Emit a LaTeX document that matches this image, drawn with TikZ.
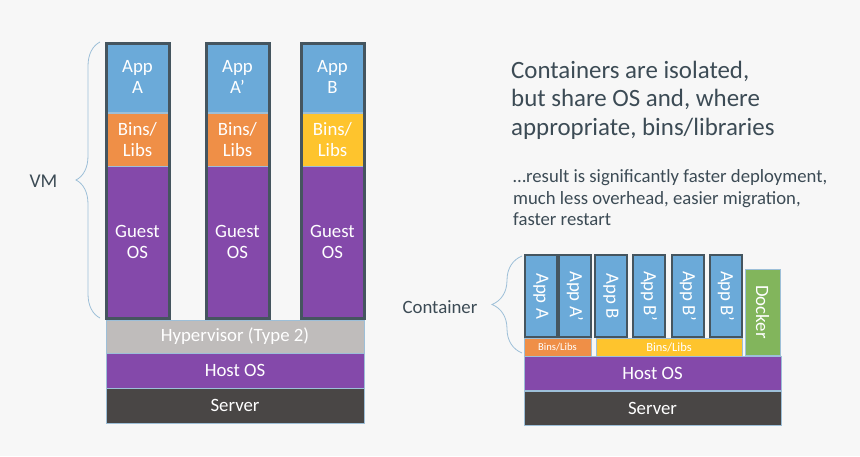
\documentclass[tikz,border=0pt]{standalone}
\usepackage{fontspec}
\setmainfont{Carlito}
\usetikzlibrary{decorations.pathreplacing}
\definecolor{bgpaper}{HTML}{F7F7F7}
\definecolor{appblue}{HTML}{6BAAD9}
\definecolor{binorange}{HTML}{EF8F47}
\definecolor{binyellow}{HTML}{FEC42D}
\definecolor{ospurple}{HTML}{8449AA}
\definecolor{hypgray}{HTML}{BFBCBB}
\definecolor{srvdark}{HTML}{494645}
\definecolor{dockgreen}{HTML}{82B55C}
\definecolor{colborder}{HTML}{45555F}
\definecolor{edgeblue}{HTML}{9DBFD8}
\definecolor{slatetext}{HTML}{3C4B55}

\begin{document}
\begin{tikzpicture}[x=1pt,y=-1pt,
  layer/.style={draw=edgeblue,line width=0.6pt,fill=#1,text=white,inner sep=0pt,
    outer sep=0pt,align=center,font=\fontsize{18.8}{21}\selectfont},
  appframe/.style={draw=colborder,line width=3pt},
  bracket/.style={draw=edgeblue,line width=0.8pt,decorate,
    decoration={brace,amplitude=#1}},
  caption/.style={text=slatetext,inner sep=0pt,align=left},
  sideways/.style={text=white,rotate=-90,inner sep=0pt,font=\fontsize{18.8}{21}\selectfont}]
  \fill[bgpaper] (0,0) rectangle (860,456);
  \useasboundingbox (0,0) rectangle (860,456);

  % virtual machines
  \foreach \cx/\lbl/\bc [count=\i] in {137.5/A/binorange,237.5/A’/binorange,332.5/B/binyellow} {
    \node[layer=appblue,minimum width=63pt,minimum height=70pt] (vmapp\i) at (\cx,77) {App\\\lbl};
    \node[layer=\bc,minimum width=63pt,minimum height=53pt] (vmbin\i) at (\cx,139.5) {Bins/\\Libs};
    \node[layer=ospurple,minimum width=63pt,minimum height=152pt] (vmguest\i) at (\cx,242) {Guest\\OS};
    \draw[appframe] (vmapp\i.north west |- 0,43) rectangle (vmguest\i.south east);
  }
  \node[layer=hypgray,minimum width=258pt,minimum height=33pt] (hyper) at (235,336.5) {Hypervisor (Type 2)};
  \node[layer=ospurple,minimum width=258pt,minimum height=35pt] (vmhost) at (235,370.5) {Host OS};
  \node[layer=srvdark,minimum width=258pt,minimum height=35pt] (vmserver) at (235,405.5) {Server};

  \coordinate (vmtop) at (100,42);
  \coordinate (vmbot) at (100,318);
  \draw[bracket=24pt] (vmbot) -- (vmtop);
  \node[caption,font=\fontsize{19.5}{21}\selectfont] (vmlabel) at (43.5,181) {VM};

  % containers
  \node[layer=binorange,minimum width=67pt,minimum height=18pt,font=\fontsize{10.6}{12}\selectfont] (cbin1) at (557.5,347) {Bins/Libs};
  \node[layer=binyellow,minimum width=146pt,minimum height=19pt,font=\fontsize{12.5}{14}\selectfont] (cbin2) at (669,347.5) {Bins/Libs};
  \foreach \cx/\lbl [count=\i] in {541/App A,575/App A’,611/App B,649/App B’,688/App B’,726/App B’} {
    \node[layer=appblue,minimum width=32pt,minimum height=82pt] (capp\i) at (\cx,296) {};
    \draw[appframe,line width=2.5pt] (capp\i.north west) rectangle (capp\i.south east);
    \node[sideways] (capptext\i) at (capp\i.center) {\lbl};
  }
  \node[layer=dockgreen,minimum width=35pt,minimum height=86pt] (docker) at (762.5,312) {};
  \node[sideways] (dockertext) at (docker.center) {Docker};
  \node[layer=ospurple,minimum width=257pt,minimum height=34pt] (chost) at (652.5,373) {Host OS};
  \node[layer=srvdark,minimum width=257pt,minimum height=34pt] (cserver) at (652.5,408) {Server};

  \coordinate (ctop) at (522,256);
  \coordinate (cbot) at (522,353);
  \draw[bracket=30pt] (cbot) -- (ctop);
  \node[caption,font=\fontsize{18.8}{21}\selectfont] (clabel) at (440,307) {Container};

  % notes
  \node[caption,anchor=west,font=\fontsize{24.9}{28.5}\selectfont] (headline) at (511,100)
    {Containers are isolated,\\but share OS and, where\\appropriate, bins/libraries};
  \node[caption,anchor=west,font=\fontsize{18.7}{21.5}\selectfont] (result) at (513,198)
    {…result is significantly faster deployment,\\much less overhead, easier migration,\\faster restart};
\end{tikzpicture}
\end{document}
